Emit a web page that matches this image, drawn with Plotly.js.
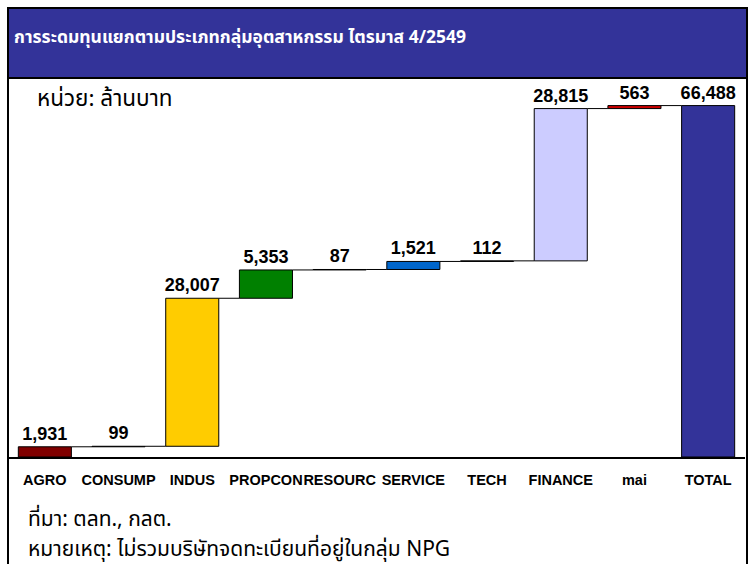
<!DOCTYPE html>
<html>
<head>
<meta charset="utf-8">
<script src="https://cdn.plot.ly/plotly-3.0.1.min.js"></script>
<style>html,body{margin:0;padding:0;background:#fff;}#chart{width:752px;height:564px;}</style>
</head>
<body>
<div id="chart"></div>
<script>
// ---- data ----
const categories = ['AGRO','CONSUMP','INDUS','PROPCON','RESOURC','SERVICE','TECH','FINANCE','mai','TOTAL'];
const values = [1931, 99, 28007, 5353, 87, 1521, 112, 28815, 563, 66488];
const isTotal = [false, false, false, false, false, false, false, false, false, true];
const titleText = 'การระดมทุนแยกตามประเภทกลุ่มอุตสาหกรรม ไตรมาส 4/2549';
const unitText = 'หน่วย: ล้านบาท';
const sourceText = 'ที่มา: ตลท., กลต.';
const noteText = 'หมายเหตุ: ไม่รวมบริษัทจดทะเบียนที่อยู่ในกลุ่ม NPG';

// ---- styles ----
const barColors = ['#800000','#1a1a1a','#FFCC00','#008000','#1a1a1a','#0066CC','#1a1a1a','#CCCCFF','#CC0000','#333399'];
const W = 752, H = 564;
const M = {l: 8, r: 7, t: 80, b: 107};
const plotW = W - M.l - M.r, plotH = H - M.t - M.b;
const yMax = 71330;
const barW = 0.72;

// ---- derived ----
const xs = categories.map((_, i) => i);
const bases = [];
let run = 0;
values.forEach((v, i) => {
  if (isTotal[i]) { bases.push(0); }
  else { bases.push(run); run += v; }
});
const cx = [], cy = [];
for (let i = 0; i < values.length - 1; i++) {
  const lvl = bases[i] + values[i];
  cx.push(i + barW / 2, i + 1 - barW / 2, null);
  cy.push(lvl, lvl, null);
}

const px = p => (p - M.l) / plotW;
const py = p => (H - M.b - p) / plotH;

const thaiFont = 'Noto Sans Thai, Noto Sans, sans-serif';
const latinFont = 'Liberation Sans, Arial, sans-serif';

const traces = [
  {
    type: 'scatter', mode: 'lines', x: cx, y: cy,
    line: {color: '#000', width: 1}, hoverinfo: 'skip', showlegend: false
  },
  {
    type: 'bar', x: xs, y: values, base: bases, width: barW,
    marker: {color: barColors, line: {color: '#000', width: 1}},
    texttemplate: '%{y:,}', textposition: 'outside', cliponaxis: false,
    constraintext: 'none',
    textfont: {family: latinFont, size: 18, color: '#000', weight: 'bold'},
    showlegend: false, hoverinfo: 'skip'
  }
];

const layout = {
  width: W, height: H,
  margin: M,
  paper_bgcolor: '#fff', plot_bgcolor: '#fff',
  showlegend: false,
  bargap: 0,
  xaxis: {
    range: [-0.5, values.length - 0.5], tickvals: xs, ticktext: categories,
    showgrid: false, zeroline: false, showline: true, linecolor: '#000', linewidth: 2,
    ticks: '', fixedrange: true, ticklabelstandoff: 9, tickangle: 0,
    tickfont: {family: latinFont, size: 14.5, color: '#000', weight: 'bold'}
  },
  yaxis: {range: [0, yMax], visible: false, fixedrange: true},
  shapes: [
    {type: 'rect', xref: 'paper', yref: 'paper', x0: px(8), x1: px(747), y0: py(78), y1: py(8),
     fillcolor: '#333399', line: {color: '#000', width: 2}, layer: 'above'},
    {type: 'line', xref: 'paper', yref: 'paper', x0: px(8), x1: px(8), y0: py(78), y1: py(566),
     line: {color: '#000', width: 2}},
    {type: 'line', xref: 'paper', yref: 'paper', x0: px(747), x1: px(747), y0: py(78), y1: py(566),
     line: {color: '#000', width: 2}}
  ],
  annotations: [
    {text: titleText, xref: 'paper', yref: 'paper', x: px(12), y: py(38), xanchor: 'left', yanchor: 'middle',
     showarrow: false, font: {family: thaiFont, size: 17.5, color: '#fff', weight: 'bold'}},
    {text: unitText, xref: 'paper', yref: 'paper', x: px(35), y: py(99), xanchor: 'left', yanchor: 'middle',
     showarrow: false, font: {family: thaiFont, size: 22.5, color: '#000'}},
    {text: sourceText, xref: 'paper', yref: 'paper', x: px(26), y: py(519), xanchor: 'left', yanchor: 'middle',
     showarrow: false, font: {family: thaiFont, size: 21, color: '#000'}},
    {text: noteText, xref: 'paper', yref: 'paper', x: px(26), y: py(549), xanchor: 'left', yanchor: 'middle',
     showarrow: false, font: {family: thaiFont, size: 21, color: '#000'}}
  ]
};

Plotly.newPlot('chart', traces, layout, {displayModeBar: false, staticPlot: true});
</script>
</body>
</html>
